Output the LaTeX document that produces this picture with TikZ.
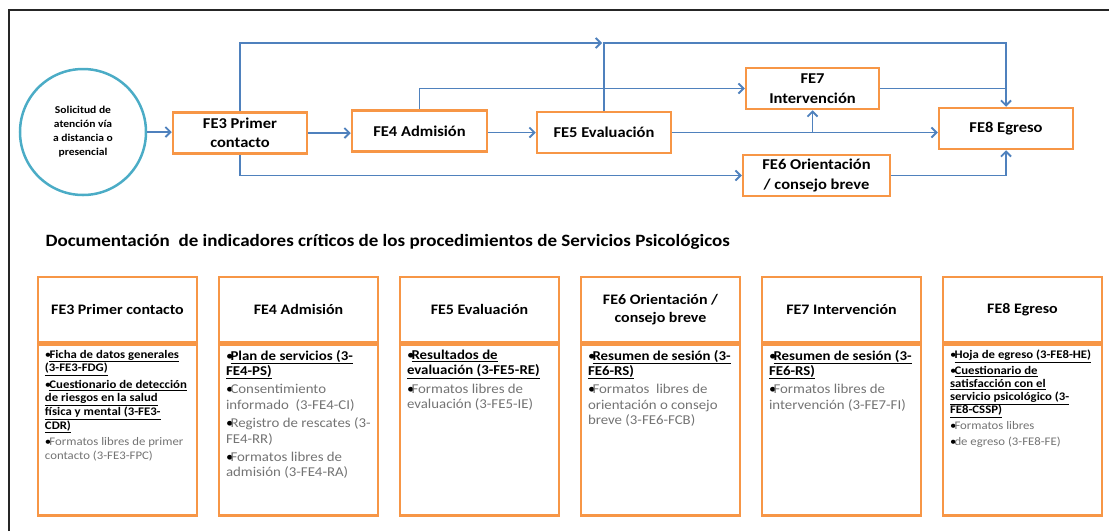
\documentclass[tikz,border=0pt]{standalone}
\usepackage{fontspec}
\setmainfont{Carlito}[FakeStretch=1.1]
\usetikzlibrary{arrows.meta,calc}

\definecolor{naranja}{RGB}{247,150,70}
\definecolor{azul}{RGB}{79,129,189}
\definecolor{turquesa}{RGB}{75,172,198}
\definecolor{gristexto}{RGB}{115,115,115}

\newcommand{\clave}[1]{\textbf{\underline{#1}}}
\newcommand{\punto}{\par\noindent\hangindent=4.5pt\hangafter=1\makebox[4.5pt][l]{\textbullet}}
\newcommand{\libre}{\color{gristexto}}

\tikzset{
	etapa/.style={draw=naranja, line width=2.5, minimum height=41, inner sep=0, align=center, font=\bfseries\fontsize{15}{19.5}\selectfont},
	solicitud/.style={circle, draw=turquesa, line width=2.5, minimum size=126, inner sep=0, align=center, font=\bfseries\fontsize{10.5}{14}\selectfont},
	flujo/.style={draw=azul, line width=1.9, -{Straight Barb[length=5pt,width=10pt,line width=1.9]}},
	linea/.style={draw=azul, line width=1.9},
	encabezado/.style={draw=naranja, line width=2.5, minimum width=159, minimum height=65, inner sep=0, align=center, font=\bfseries\fontsize{14.5}{18}\selectfont},
	cuerpo/.style={draw=naranja, line width=2.5, anchor=north, inner xsep=7, inner ysep=5.5},
	marco/.style={draw=black!85, line width=1.6},
}

\begin{document}
\begin{tikzpicture}[x=1pt, y=-1pt]
			%%%%% START %%%%%
			\useasboundingbox (0,0) rectangle (1109,531);
			\draw[marco] (9,531) -- (9,10) -- (1109,10);
			
			% flujo de atencion
			\node[solicitud] (sol) at (83,132) {Solicitud de\\atención vía\\a distancia o\\presencial};
			\node[etapa, minimum width=134] (fe3) at (240,133) {FE3 Primer\\contacto};
			\node[etapa, minimum width=135] (fe4) at (419.5,131) {FE4 Admisión};
			\node[etapa, minimum width=134] (fe5) at (604,132.5) {FE5 Evaluación};
			\node[etapa, minimum width=133] (fe7) at (812.5,88.5) {FE7\\Intervención};
			\node[etapa, minimum width=147] (fe6) at (816.5,175.5) {FE6 Orientación\\/ consejo breve};
			\node[etapa, minimum width=134] (fe8) at (1006,128.5) {FE8 Egreso};
			\coordinate (cima) at (602,43);
			
			\draw[flujo] (sol.east) -- (sol.east -| fe3.west);
			\draw[flujo] (fe3.east) -- (fe3.east -| fe4.west);
			\draw[flujo] (fe4.east |- fe5.west) -- (fe5.west);
			\draw[flujo] (fe3.north) |- (cima);
			\draw[flujo] (fe5.north) |- (fe8.north |- cima) -- (fe8.north);
			\draw[flujo] (fe4.north) |- (fe7.west);
			\draw[linea] (fe7.east) -- (fe7.east -| fe8.north);
			\draw[flujo] (fe5.east) -- (fe5.east -| fe8.west);
			\draw[flujo] (fe5.east -| fe7.south) -- (fe7.south);
			\draw[flujo] (fe3.south) |- (fe6.west);
			\draw[flujo] (fe6.east) -| (fe8.south);
			
			% documentacion
			\node[anchor=west, font=\bfseries\fontsize{17.3}{20}\selectfont] (tit) at (42,242) {Documentación\ \ de indicadores críticos de los procedimientos de Servicios Psicológicos};
			
			\node[encabezado] (h3) at (117.5,309.5) {FE3 Primer contacto};
			\node[cuerpo] (c3) at (h3.south) {\parbox[t][160pt][t]{145pt}{\raggedright\fontsize{11.6}{13.6}\selectfont\setlength{\parskip}{3pt}%
				\punto\clave{Ficha de datos generales}\\\clave{(3-FE3-FDG)}
				\punto\clave{Cuestionario de detección}\\\clave{de riesgos en la salud}\\\clave{física y mental (3-FE3-}\\\clave{CDR)}
				\punto{\libre Formatos libres de primer\\contacto (3-FE3-FPC)}}};
			
			\node[encabezado] (h4) at (298.5,309.5) {FE4 Admisión};
			\node[cuerpo] (c4) at (h4.south) {\parbox[t][160pt][t]{145pt}{\raggedright\fontsize{13.5}{15.2}\selectfont\setlength{\parskip}{3.5pt}%
				\punto\clave{Plan de servicios (3-}\\\clave{FE4-PS)}
				\punto{\libre Consentimiento\\informado\ \ (3-FE4-CI)}
				\punto{\libre Registro de rescates (3-\\FE4-RR)}
				\punto{\libre Formatos libres de\\admisión (3-FE4-RA)}}};
			
			\node[encabezado] (h5) at (479.5,309.5) {FE5 Evaluación};
			\node[cuerpo] (c5) at (h5.south) {\parbox[t][160pt][t]{145pt}{\raggedright\fontsize{13.5}{15.2}\selectfont\setlength{\parskip}{3.5pt}%
				\punto\clave{Resultados de}\\\clave{evaluación (3-FE5-RE)}
				\punto{\libre Formatos libres de\\evaluación (3-FE5-IE)}}};
			
			\node[encabezado] (h6) at (660.5,309.5) {FE6 Orientación /\\consejo breve};
			\node[cuerpo] (c6) at (h6.south) {\parbox[t][160pt][t]{145pt}{\raggedright\fontsize{13.5}{15.2}\selectfont\setlength{\parskip}{3.5pt}%
				\punto\clave{Resumen de sesión (3-}\\\clave{FE6-RS)}
				\punto{\libre Formatos\ \ libres de\\orientación o consejo\\breve (3-FE6-FCB)}}};
			
			\node[encabezado] (h7) at (841.5,309.5) {FE7 Intervención};
			\node[cuerpo] (c7) at (h7.south) {\parbox[t][160pt][t]{145pt}{\raggedright\fontsize{13.5}{15.2}\selectfont\setlength{\parskip}{3.5pt}%
				\punto\clave{Resumen de sesión (3-}\\\clave{FE6-RS)}
				\punto{\libre Formatos libres de\\intervención (3-FE7-FI)}}};
			
			\node[encabezado] (h8) at (1022.5,309.5) {FE8 Egreso};
			\node[cuerpo] (c8) at (h8.south) {\parbox[t][160pt][t]{145pt}{\raggedright\fontsize{11.6}{13.2}\selectfont\setlength{\parskip}{2.5pt}%
				\punto\clave{Hoja de egreso (3-FE8-HE)}
				\punto\clave{Cuestionario de}\\\clave{satisfacción con el}\\\clave{servicio psicológico (3-}\\\clave{FE8-CSSP)}
				\punto{\libre Formatos libres}
				\punto{\libre de egreso (3-FE8-FE)}}};
			%%%%% END %%%%%
\end{tikzpicture}
\end{document}
